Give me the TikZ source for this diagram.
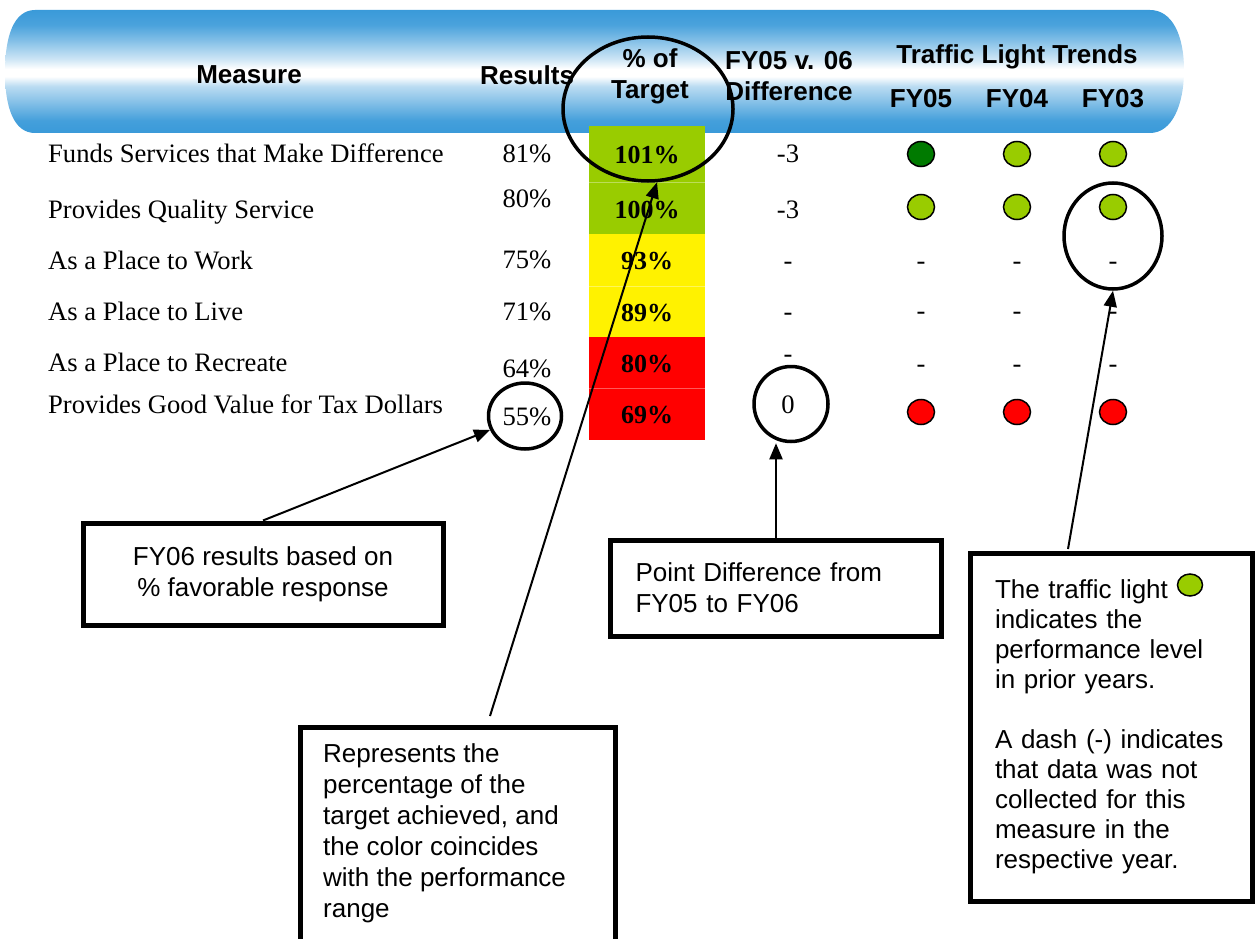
\documentclass[tikz,border=0pt]{standalone}
\usepackage{fontspec}
\setmainfont{Liberation Serif}
\setsansfont{Liberation Sans}
\usetikzlibrary{shapes.geometric,arrows.meta}
\definecolor{bannerblue}{RGB}{58,154,217}
\definecolor{litegreen}{RGB}{153,204,0}
\definecolor{darkgreen}{RGB}{0,122,0}
\pgfdeclareverticalshading{bannershade}{100bp}{color(0bp)=(bannerblue); color(25bp)=(bannerblue); color(30bp)=(bannerblue!95!white); color(38bp)=(bannerblue!60!white); color(44bp)=(bannerblue!35!white); color(48bp)=(white); color(51bp)=(white); color(55bp)=(bannerblue!25!white); color(63bp)=(bannerblue!65!white); color(69bp)=(bannerblue!92!white); color(75bp)=(bannerblue); color(100bp)=(bannerblue)}

\begin{document}
\begin{tikzpicture}[x=1pt, y=-1pt,
  every node/.style={inner sep=0pt, font=\fontsize{26.6}{31}\selectfont},
  hdr/.style={font=\fontsize{26}{31}\selectfont\sffamily\bfseries, align=center},
  cell/.style={anchor=base},
  light/.style={ellipse, draw=black, line width=1.5pt, minimum width=27pt, minimum height=25pt},
  ring/.style={ellipse, draw=black, line width=3.5pt},
  callout/.style={draw=black, line width=5pt, font=\fontsize{26}{31}\selectfont\sffamily, inner xsep=25pt},
  pointer/.style={line width=2pt, -{Triangle[length=16pt,width=13pt]}}]
\useasboundingbox (0,0) rectangle (1258,939);
% header banner
\shade[shading=bannershade] (35,10) -- (1150,10) .. controls (1172,10) and (1184,35) .. (1184,70) .. controls (1184,105) and (1172,133) .. (1150,133) -- (35,133) .. controls (14,133) and (5,108) .. (5,72) .. controls (5,36) and (14,10) .. (35,10) -- cycle;
\node[hdr] (hmeasure) at (249,75) {Measure};
\node[hdr] (hresults) at (527,75) {Results};
\node[hdr] (htarget) at (650,76) {\% of\\Target};
\node[hdr] (hdiff) at (789,76) {FY05 v. 06\\Difference};
\node[hdr] (htrend) at (1017,57) {Traffic Light Trends};
\foreach \x/\yr in {921/05, 1017/04, 1113/03}
  \node[hdr] (hfy\yr) at (\x,99) {FY\yr};
% % of target column
\foreach \ya/\yb/\col in {126/234/litegreen, 234/337/yellow, 337/440/red}
  \fill[\col] (589,\ya) rectangle (705,\yb);
\foreach \y in {182,286,388}
  \draw[white, opacity=0.35, line width=0.8pt] (589,\y) -- (705,\y);
% rows
\foreach \i/\y/\lab in {1/163/Funds Services that Make Difference, 2/218/Provides Quality Service, 3/269/As a Place to Work, 4/320/As a Place to Live, 5/371/As a Place to Recreate, 6/413/Provides Good Value for Tax Dollars}
  \node[anchor=base west] (meas\i) at (48,\y) {\lab};
\foreach \i/\y/\val in {1/163/81, 2/207/80, 3/268/75, 4/320/71, 5/377/64, 6/425/55}
  \node[cell] (res\i) at (527,\y) {\val\%};
\foreach \i/\y/\val in {1/164/101, 2/218/100, 3/269/93, 4/321/89, 5/372/80, 6/423/69}
  \node[cell, font=\fontsize{26}{31}\selectfont\bfseries] (tgt\i) at (647,\y) {\val\%};
\foreach \i/\y/\val in {1/163/-3, 2/218/-3, 3/269/-, 4/320/-, 5/362/-, 6/413/0}
  \node[cell] (dif\i) at (788,\y) {\val};
% traffic lights
\node[light, fill=darkgreen] (tla05) at (921,154) {};
\node[light, fill=litegreen] (tla04) at (1017,154) {};
\node[light, fill=litegreen] (tla03) at (1113,154) {};
\foreach \x/\yr in {921/05, 1017/04, 1113/03} {
  \node[light, fill=litegreen] (tlb\yr) at (\x,207) {};
  \node[light, fill=red] (tlf\yr) at (\x,412) {};
  \foreach \y/\r in {269/c, 319/d, 372/e}
    \node[cell] (tl\r\yr) at (\x,\y) {-};
}
% rings
\node[ring, minimum width=170pt, minimum height=144pt] (ringtgt) at (648,109) {};
\node[ring, minimum width=73pt, minimum height=66pt] (ringres) at (525,416) {};
\node[ring, minimum width=74pt, minimum height=75pt] (ringdif) at (791,404) {};
\node[ring, minimum width=98pt, minimum height=106pt] (ringfy) at (1113,236) {};
% callouts
\node[callout, minimum width=360pt, minimum height=102pt, align=center] (boxres) at (263,574) {FY06 results based on\\\% favorable response};
\node[callout, minimum height=96pt, text width=281pt, align=left] (boxdif) at (776,588) {Point Difference from\\FY05 to FY06};
\node[callout, anchor=north west, minimum width=315pt, minimum height=260pt] (boxtgt) at (298,725) {};
\node[anchor=north west, align=left, font=\fontsize{26}{31}\selectfont\sffamily] (txttgt) at (323,743) {Represents the\\percentage of the\\target achieved, and\\the color coincides\\with the performance\\range};
\node[callout, minimum width=282pt, minimum height=348pt, text width=232pt, align=left, font=\fontsize{26}{30}\selectfont\sffamily] (boxlight) at (1111,727) {The traffic light\\indicates the\\performance level\\in prior years.\\[30pt]A dash (-) indicates\\that data was not\\collected for this\\measure in the\\respective year.};
\node[light, fill=litegreen, minimum width=25pt, minimum height=22pt] (keylight) at (1190,585) {};
% pointers
\coordinate (tgttail) at (490,716);
\coordinate (lighttail) at (1068,549);
\draw[pointer] (boxres.north) -- (ringres);
\draw[pointer] (tgttail) -- (ringtgt.-83);
\draw[pointer] (boxdif.north) -- (boxdif.north |- ringdif.south);
\draw[pointer] (lighttail) -- (ringfy.south);
\end{tikzpicture}
\end{document}
